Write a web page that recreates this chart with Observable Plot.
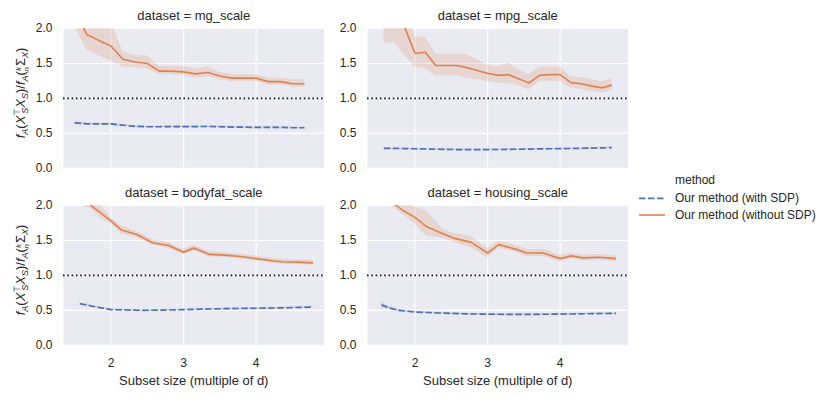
<!DOCTYPE html>
<html><head><meta charset="utf-8">
<script src="https://cdn.jsdelivr.net/npm/d3@7"></script>
<script src="https://cdn.jsdelivr.net/npm/@observablehq/plot@0.6"></script>
<style>
body{margin:0;background:#fff;}
#fig{position:relative;width:830px;height:398px;font-family:"Liberation Sans",Arial,sans-serif;color:#262626;}
</style></head><body><div id="fig"></div>
<script>
const datasets = ["mg_scale", "mpg_scale", "bodyfat_scale", "housing_scale"];
const dims = [6, 7, 14, 13];
const methods = ["Our method (with SDP)", "Our method (without SDP)"];
const colors = ["#4C72B0", "#DD8452"];
const xTicks = [2, 3, 4];
const yTicks = [0, 0.5, 1, 1.5, 2];
const xLabel = "Subset size (multiple of d)";

// mg_scale (d = 6), subset size k
const mgK = [9,10,11,12,13,14,15,16,17,18,19,20,21,22,23,24,25,26,27,28];
const mgOrange   = [2.26,1.915,1.83,1.75,1.56,1.52,1.50,1.39,1.39,1.38,1.35,1.37,1.32,1.29,1.29,1.29,1.24,1.24,1.21,1.21];
const mgOrangeLo = [2.03,1.69,1.61,1.53,1.45,1.44,1.42,1.34,1.34,1.33,1.29,1.31,1.27,1.24,1.24,1.24,1.19,1.19,1.16,1.16];
const mgOrangeHi = [2.60,2.40,2.20,2.09,1.67,1.61,1.61,1.46,1.46,1.46,1.42,1.45,1.37,1.34,1.34,1.34,1.29,1.29,1.27,1.27];
const mgBlue   = [0.650,0.635,0.635,0.635,0.616,0.600,0.595,0.595,0.597,0.597,0.597,0.598,0.595,0.590,0.588,0.585,0.585,0.585,0.580,0.580];
const mgBlueLo = [0.635,0.623,0.624,0.624,0.605,0.590,0.585,0.585,0.587,0.587,0.587,0.588,0.585,0.580,0.578,0.575,0.575,0.575,0.570,0.570];
const mgBlueHi = [0.665,0.647,0.646,0.646,0.627,0.610,0.605,0.605,0.607,0.607,0.607,0.608,0.605,0.600,0.598,0.595,0.595,0.595,0.590,0.590];

// mpg_scale (d = 7)
const mpgK = [11,12,13,14,15,16,17,18,19,20,21,22,23,24,25,26,27,28,29,30,31,32,33];
const mpgOrange   = [2.50,2.30,2.02,1.645,1.66,1.47,1.47,1.47,1.44,1.40,1.36,1.33,1.34,1.28,1.22,1.33,1.34,1.34,1.23,1.21,1.18,1.15,1.19];
const mpgOrangeLo = [1.79,1.80,1.62,1.44,1.43,1.32,1.32,1.32,1.29,1.27,1.24,1.22,1.21,1.18,1.12,1.24,1.24,1.24,1.15,1.13,1.10,1.08,1.11];
const mpgOrangeHi = [2.60,2.50,2.40,1.88,1.88,1.63,1.63,1.63,1.63,1.55,1.48,1.45,1.51,1.41,1.34,1.45,1.45,1.45,1.31,1.30,1.27,1.24,1.28];
const mpgBlue   = [0.285,0.284,0.282,0.279,0.276,0.273,0.270,0.268,0.267,0.267,0.268,0.269,0.271,0.273,0.275,0.277,0.279,0.281,0.283,0.286,0.289,0.292,0.296];
const mpgBlueLo = [0.277,0.276,0.274,0.271,0.268,0.265,0.262,0.260,0.259,0.259,0.260,0.261,0.263,0.265,0.267,0.269,0.271,0.273,0.275,0.278,0.281,0.284,0.288];
const mpgBlueHi = [0.293,0.292,0.290,0.287,0.284,0.281,0.278,0.276,0.275,0.275,0.276,0.277,0.279,0.281,0.283,0.285,0.287,0.289,0.291,0.294,0.297,0.300,0.304];

// bodyfat_scale (d = 14)
const bfKOrange = [22,23,24,26,28,30,33,36,39,42,44,47,50,53,56,59,61,64,67];
const bfOrange   = [2.35,2.20,2.01,1.895,1.78,1.65,1.585,1.467,1.43,1.333,1.39,1.30,1.29,1.27,1.24,1.21,1.195,1.19,1.18];
const bfOrangeLo = [2.10,1.98,1.96,1.81,1.73,1.595,1.54,1.43,1.39,1.295,1.35,1.265,1.255,1.235,1.205,1.175,1.16,1.155,1.145];
const bfOrangeHi = [2.60,2.42,2.12,2.01,1.83,1.71,1.63,1.51,1.47,1.37,1.43,1.335,1.325,1.305,1.275,1.245,1.23,1.225,1.215];
const bfKBlue = [22,25,28,31,34,38,42,46,50,54,58,62,67];
const bfBlue   = [0.595,0.550,0.510,0.505,0.500,0.503,0.510,0.517,0.524,0.528,0.532,0.537,0.548];
const bfBlueLo = [0.578,0.538,0.500,0.495,0.490,0.493,0.500,0.507,0.514,0.518,0.522,0.527,0.537];
const bfBlueHi = [0.612,0.562,0.520,0.515,0.510,0.513,0.520,0.527,0.534,0.538,0.542,0.547,0.559];

// housing_scale (d = 13)
const hoKOrange = [20,21,22,24,26,28,31,33,36,39,41,44,46,49,52,54,56,59,62];
const hoOrange   = [2.35,2.20,2.04,1.92,1.83,1.70,1.595,1.53,1.476,1.32,1.44,1.376,1.32,1.32,1.24,1.28,1.25,1.26,1.24];
const hoOrangeLo = [2.30,2.15,1.98,1.86,1.73,1.57,1.53,1.47,1.40,1.25,1.39,1.33,1.27,1.27,1.19,1.24,1.21,1.22,1.20];
const hoOrangeHi = [2.60,2.45,2.20,2.05,1.98,1.92,1.66,1.60,1.56,1.39,1.49,1.43,1.37,1.37,1.29,1.32,1.29,1.30,1.28];
const hoKBlue = [20,21,23,26,30,36,42,48,54,62];
const hoBlue   = [0.580,0.545,0.500,0.476,0.462,0.448,0.443,0.443,0.448,0.457];
const hoBlueLo = [0.535,0.520,0.485,0.464,0.452,0.438,0.433,0.433,0.438,0.447];
const hoBlueHi = [0.625,0.570,0.515,0.488,0.472,0.458,0.453,0.453,0.458,0.467];

function rows(i, m, ks, mean, lo, hi) {
  return ks.map((k, j) => ({dataset: datasets[i], method: methods[m], x: k / dims[i], y: mean[j], lo: lo[j], hi: hi[j]}));
}
const allRows = [
  ...rows(0, 0, mgK, mgBlue, mgBlueLo, mgBlueHi), ...rows(0, 1, mgK, mgOrange, mgOrangeLo, mgOrangeHi),
  ...rows(1, 0, mpgK, mpgBlue, mpgBlueLo, mpgBlueHi), ...rows(1, 1, mpgK, mpgOrange, mpgOrangeLo, mpgOrangeHi),
  ...rows(2, 0, bfKBlue, bfBlue, bfBlueLo, bfBlueHi), ...rows(2, 1, bfKOrange, bfOrange, bfOrangeLo, bfOrangeHi),
  ...rows(3, 0, hoKBlue, hoBlue, hoBlueLo, hoBlueHi), ...rows(3, 1, hoKOrange, hoOrange, hoOrangeLo, hoOrangeHi)
];

const fig = document.getElementById("fig");
const mL = 63, mT = 30, pw = 260.5, ph = 139.8, mR = 8, mB = 54;

function panel(i, col, row) {
  const x0 = col ? 366.7 : 63.3;
  const y0 = row ? 205 : 28.3;
  const data = allRows.filter(r => r.dataset === datasets[i]);
  const blue = data.filter(r => r.method === methods[0]);
  const orange = data.filter(r => r.method === methods[1]);
  const marks = [
    Plot.frame({fill: "#EAEAF2", stroke: "none"}),
    Plot.gridX({ticks: xTicks, stroke: "#fff", strokeOpacity: 1, strokeWidth: 1.1}),
    Plot.gridY({ticks: yTicks, stroke: "#fff", strokeOpacity: 1, strokeWidth: 1.1}),
    Plot.axisY({ticks: yTicks, tickFormat: d3.format(".1f"), tickSize: 0, tickPadding: 11, fontSize: 12, label: null}),
    Plot.areaY(blue, {x: "x", y1: "lo", y2: "hi", fill: colors[0], fillOpacity: 0.2, clip: true}),
    Plot.areaY(orange, {x: "x", y1: "lo", y2: "hi", fill: colors[1], fillOpacity: 0.2, clip: true}),
    Plot.line(blue, {x: "x", y: "y", stroke: colors[0], strokeWidth: 1.65, strokeDasharray: "6.5,2.5", strokeLinecap: "butt", clip: true}),
    Plot.line(orange, {x: "x", y: "y", stroke: colors[1], strokeWidth: 1.65, strokeLinecap: "butt", clip: true}),
    Plot.ruleY([1], {stroke: "#111", strokeWidth: 1.6, strokeDasharray: "1.6,2.7"}),
    Plot.text([`dataset = ${datasets[i]}`], {text: d => d, frameAnchor: "top", dy: -13, lineAnchor: "middle", fontSize: 13, fill: "#262626"})
  ];
  if (row === 1) {
    marks.push(
      Plot.axisX({ticks: xTicks, tickFormat: d3.format("d"), tickSize: 0, tickPadding: 13, fontSize: 12, label: null}),
      Plot.text([xLabel], {text: d => d, frameAnchor: "bottom", dy: 35.5, lineAnchor: "middle", fontSize: 13, fill: "#262626"})
    );
  }
  const svg = Plot.plot({
    width: mL + pw + mR, height: mT + ph + mB,
    marginLeft: mL, marginRight: mR, marginTop: mT, marginBottom: mB,
    x: {domain: [1.346, 4.935], label: null, axis: row === 1 ? undefined : null},
    y: {domain: [0, 2], label: null},
    style: {background: "transparent", overflow: "visible", fontFamily: "Liberation Sans, Arial, sans-serif", color: "#262626", position: "absolute", left: (x0 - mL) + "px", top: (y0 - mT) + "px", maxWidth: "none"},
    marks
  });
  fig.appendChild(svg);
}
panel(0, 0, 0); panel(1, 1, 0); panel(2, 0, 1); panel(3, 1, 1);

// overlay: y-axis labels and legend
const ns = "http://www.w3.org/2000/svg";
const ov = document.createElementNS(ns, "svg");
ov.setAttribute("width", 830); ov.setAttribute("height", 398);
ov.style.position = "absolute"; ov.style.left = "0px"; ov.style.top = "0px"; ov.style.overflow = "visible";
ov.style.fontFamily = "Liberation Sans, Arial, sans-serif";
const ylab = (cy) => `<text transform="translate(25,${cy}) rotate(-90)" text-anchor="middle" font-size="13" fill="#262626">` +
  `<tspan font-style="italic">f</tspan><tspan font-style="italic" font-size="9" dy="3">A</tspan>` +
  `<tspan dy="-3">(</tspan><tspan font-style="italic">X</tspan>` +
  `<tspan font-size="9" dy="-5">⊤</tspan><tspan font-style="italic" font-size="9" dx="-6" dy="8">S</tspan>` +
  `<tspan font-style="italic" dy="-3">X</tspan><tspan font-style="italic" font-size="9" dy="3">S</tspan>` +
  `<tspan dy="-3">)/</tspan><tspan font-style="italic">f</tspan><tspan font-style="italic" font-size="9" dy="3">A</tspan>` +
  `<tspan dy="-3">(</tspan><tspan font-style="italic" font-size="8" dy="-4">k</tspan><tspan font-style="italic" font-size="8" dx="-4.5" dy="8">n</tspan>` +
  `<tspan dy="-4" dx="1">Σ</tspan><tspan font-style="italic" font-size="9" dy="3">X</tspan><tspan dy="-3">)</tspan></text>`;
ov.innerHTML = ylab(93) + ylab(270) +
  `<text x="675" y="180" font-size="12" fill="#262626" dominant-baseline="central">method</text>` +
  `<line x1="639" x2="665" y1="198.3" y2="198.3" stroke="${colors[0]}" stroke-width="1.65" stroke-dasharray="6.5,2.5"/>` +
  `<text x="675" y="198.3" font-size="12" fill="#262626" dominant-baseline="central">${methods[0]}</text>` +
  `<line x1="639" x2="665" y1="215" y2="215" stroke="${colors[1]}" stroke-width="1.65"/>` +
  `<text x="675" y="215" font-size="12" fill="#262626" dominant-baseline="central">${methods[1]}</text>`;
fig.appendChild(ov);
</script></body></html>
